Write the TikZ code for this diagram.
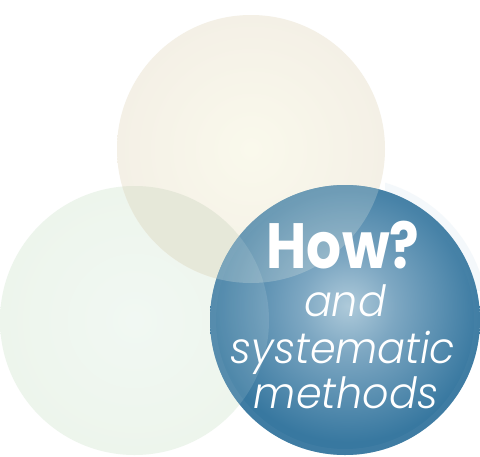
\documentclass[tikz,border=0pt]{standalone}
\usepackage{fontspec}
\newfontfamily\howfont{Poppins Bold}
\newfontfamily\litfont{Poppins Light Italic}
\definecolor{greenbase}{HTML}{EDF5EC}
\definecolor{greenin}{HTML}{F1F8F3}
\definecolor{beigebase}{HTML}{F4F0E6}
\definecolor{beigein}{HTML}{FAF9EC}
\definecolor{overlapTL}{HTML}{E6E8D9}
\definecolor{bluebase}{HTML}{3878A0}
\definecolor{bluemid}{HTML}{7DA7C2}
\definecolor{bluein}{HTML}{AECADA}
\definecolor{blueedge}{HTML}{4A84A8}
\definecolor{glow}{HTML}{EEF4F9}
% shading centred on the highlight; 50bp = radius of the shaded circle (170pt)
\pgfdeclareradialshading{bluesh}{\pgfpoint{0bp}{0bp}}{%
  color(0bp)=(bluein); color(7bp)=(bluemid); color(20bp)=(bluebase);
  color(50bp)=(bluebase)}
\tikzset{
  lit/.style={text=white, font=\litfont\fontsize{43}{43}\selectfont, anchor=base, inner sep=0pt},
  how/.style={text=white, font=\howfont\fontsize{64}{64}\selectfont, anchor=base, inner sep=0pt}
}
\begin{document}
\begin{tikzpicture}[x=1pt,y=-1pt]
\useasboundingbox (0,0) rectangle (480,456);
\fill[white] (0,0) rectangle (480,456);
% left green circle
\shade[inner color=greenin, outer color=greenbase] (134.5,320.5) circle (134.5);
% top beige circle
\shade[inner color=beigein, outer color=beigebase] (251,149) circle (134);
% overlap top & left
\begin{scope}
  \clip (134.5,320.5) circle (134.5);
  \fill[overlapTL] (251,149) circle (134);
\end{scope}
% faint glow at the top right of the blue circle
\begin{scope}
  \clip (385,170) rectangle (480,290);
  \draw[glow, line width=10pt, opacity=0.6] (345,320) circle (138);
\end{scope}
% blue circle
\begin{scope}
  \clip (345,320) circle (135);
  \path[shading=bluesh] (348,306) circle (170);
  \draw[blueedge, line width=12pt, opacity=0.4] (345,320) circle (135);
  \fill[beigein, opacity=0.22] (251,149) circle (134);
  \fill[greenin, opacity=0.13] (134.5,320.5) circle (134.5);
\end{scope}
% texts
\node[how] (how) at (343,268) {\scalebox{0.86}[1]{How?}};
\node[lit] (and) at (345,316) {\scalebox{0.96}[1]{and}};
\node[lit] (sys) at (343,363) {\scalebox{0.96}[1]{systematic}};
\node[lit] (meth) at (346,408) {\scalebox{0.96}[1]{methods}};
\end{tikzpicture}
\end{document}
